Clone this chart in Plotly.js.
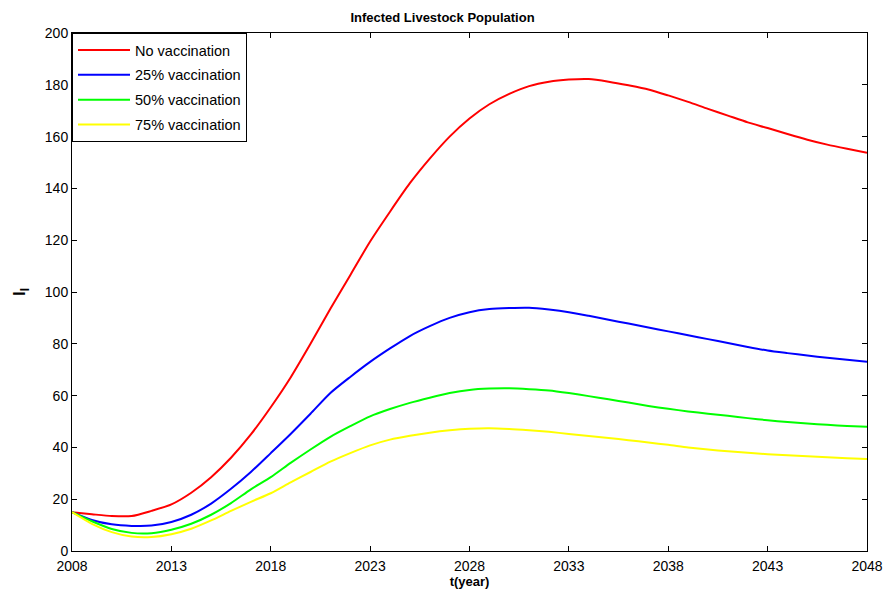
<!DOCTYPE html>
<html>
<head>
<meta charset="utf-8">
<script src="https://cdn.plot.ly/plotly-3.0.1.min.js"></script>
<style>html,body{margin:0;padding:0;background:#fff;}#chart{width:885px;height:592px;}</style>
</head>
<body>
<div id="chart"></div>
<script>
var years = [];
for (var y = 2008; y <= 2048; y++) years.push(y);

var noVaccination = [15, 14.2, 13.5, 13.5, 15.5, 18, 22.5, 28.5, 36, 45, 55.5, 67, 80, 93.5, 106.5, 119.5, 131, 142, 151.5, 160, 167, 172.5, 176.5, 179.5, 181.2, 182, 182.2, 181.2, 179.8, 178.2, 175.9, 173.4, 170.7, 168.1, 165.5, 163.3, 161, 158.8, 156.9, 155.3, 153.8];
var vacc25 = [15, 12, 10.3, 9.7, 9.8, 11.2, 14, 18.3, 24, 30.5, 37.8, 45.2, 53, 61, 67.2, 73, 78.2, 83, 86.8, 90, 92.2, 93.4, 93.8, 93.9, 93.2, 92.2, 90.8, 89.3, 87.8, 86.3, 84.8, 83.3, 81.8, 80.3, 78.8, 77.4, 76.4, 75.5, 74.6, 73.8, 73.1];
var vacc50 = [15, 11.5, 8.5, 7, 6.9, 8.2, 10.5, 14, 18.5, 23.8, 28.5, 34, 39.2, 44.1, 48.2, 52, 54.8, 57.2, 59.2, 61, 62.2, 62.7, 62.8, 62.5, 62, 61, 59.8, 58.6, 57.3, 56, 54.9, 53.9, 53, 52.2, 51.3, 50.5, 49.8, 49.2, 48.7, 48.3, 48];
var vacc75 = [15, 10.5, 7.3, 5.6, 5.4, 6.5, 8.6, 11.8, 15.5, 19, 22.3, 26.5, 30.5, 34.5, 37.8, 40.8, 43, 44.5, 45.7, 46.6, 47.2, 47.4, 47.1, 46.6, 46, 45.2, 44.4, 43.6, 42.8, 41.9, 41, 40, 39.2, 38.5, 37.9, 37.4, 37, 36.6, 36.2, 35.8, 35.5];

var seriesNames = ['No vaccination', '25% vaccination', '50% vaccination', '75% vaccination'];
var seriesColors = ['#ff0000', '#0000ff', '#00ff00', '#ffff00'];
var seriesValues = [noVaccination, vacc25, vacc50, vacc75];

var xTicks = [2008, 2013, 2018, 2023, 2028, 2033, 2038, 2043, 2048];
var yTicks = [0, 20, 40, 60, 80, 100, 120, 140, 160, 180, 200];

var traces = seriesValues.map(function (vals, i) {
  return {
    x: years, y: vals, type: 'scatter', mode: 'lines',
    name: seriesNames[i], legendgroup: 'g' + i,
    line: {color: seriesColors[i], width: 2, shape: 'spline', smoothing: 0.7}
  };
});

var font = 'Arial, "Liberation Sans", sans-serif';
var layout = {
  width: 885, height: 592,
  paper_bgcolor: '#fff', plot_bgcolor: '#fff',
  margin: {l: 72, r: 18, t: 33, b: 41, pad: 0},
  font: {family: font, size: 14, color: '#000'},
  title: {text: '<b>Infected Livestock Population</b>', font: {family: font, size: 13, color: '#000'}, x: 0.5, xanchor: 'center', y: 1, yref: 'paper', yanchor: 'bottom', pad: {b: 11}},
  showlegend: true,
  legend: {x: 0, y: 1, xanchor: 'left', yanchor: 'top', bgcolor: '#fff', bordercolor: '#000', borderwidth: 1,
           font: {family: font, size: 14.5, color: '#000'}, tracegroupgap: 3, itemwidth: 52},
  xaxis: {
    range: [2008, 2048], tickvals: xTicks, ticktext: xTicks.map(String),
    showline: true, linecolor: '#000', linewidth: 1, mirror: 'ticks',
    ticks: 'inside', ticklen: 5, tickcolor: '#000', showgrid: false, zeroline: false,
    ticklabelstandoff: 2,
    tickfont: {family: font, size: 14, color: '#000'},
    title: {text: '<b>t(year)</b>', font: {family: font, size: 13, color: '#000'}, standoff: 1}
  },
  yaxis: {
    range: [0, 200], tickvals: yTicks, ticktext: yTicks.map(String),
    showline: true, linecolor: '#000', linewidth: 1, mirror: 'ticks',
    ticks: 'inside', ticklen: 5, tickcolor: '#000', showgrid: false, zeroline: false,
    tickfont: {family: font, size: 14, color: '#000'},
    title: {text: '<b>I<sub>l</sub></b>', font: {family: font, size: 17, color: '#000'}, standoff: 14}
  }
};

Plotly.newPlot('chart', traces, layout, {staticPlot: true, displayModeBar: false});
</script>
</body>
</html>
